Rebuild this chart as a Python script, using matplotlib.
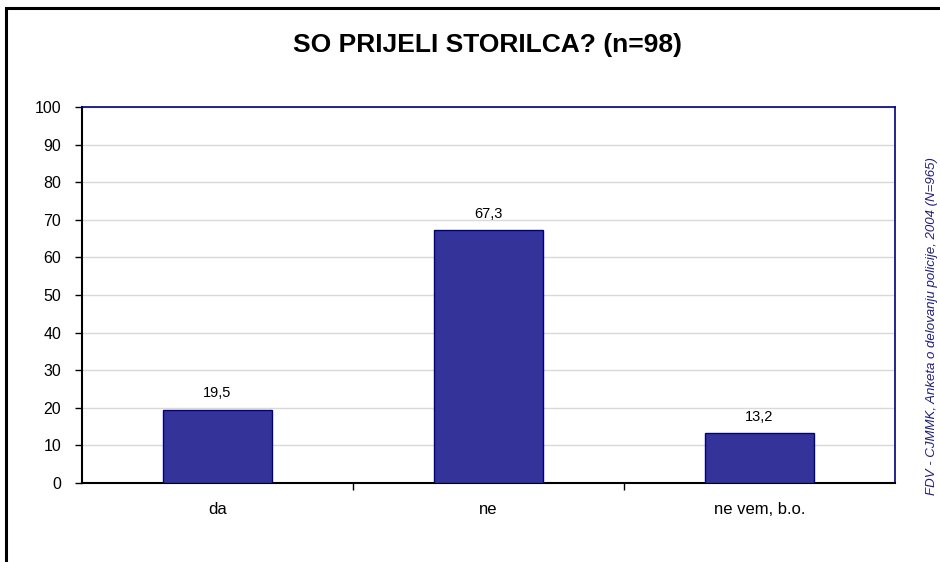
import matplotlib
matplotlib.use("Agg")
import matplotlib.pyplot as plt
from matplotlib.patches import Rectangle

categories = ["da", "ne", "ne vem, b.o."]
values = [19.5, 67.3, 13.2]
value_labels = ["19,5", "67,3", "13,2"]
yticks = [0, 10, 20, 30, 40, 50, 60, 70, 80, 90, 100]
title = "SO PRIJELI STORILCA? (n=98)"
source = "FDV - CJMMK, Anketa o delovanju policije, 2004 (N=965)"

plt.rcParams['font.family'] = ['Liberation Sans', 'DejaVu Sans']

fig = plt.figure(figsize=(9.4, 5.62), dpi=100)
ax = fig.add_axes([82/940, 1-483/562, (895-82)/940, (483-107)/562])

x = list(range(len(categories)))
ax.bar(x, values, width=0.4, color="#333399", edgecolor="#000080", linewidth=1, zorder=3)
for xi, v, lab in zip(x, values, value_labels):
    ax.text(xi, v + 2.5, lab, ha="center", va="bottom", fontsize=10.5)

ax.set_xlim(-0.5, len(categories) - 0.5)
ax.set_ylim(0, 100)
ax.set_yticks(yticks)
ax.set_yticklabels([str(t) for t in yticks], fontsize=11.5)
ax.yaxis.grid(True, color="#d9d9d9", linewidth=1, zorder=0)
ax.set_axisbelow(True)

ax.set_xticks(x)
ax.set_xticklabels(categories, fontsize=12)
ax.tick_params(axis="x", which="major", length=0, pad=14)
ax.set_xticks([i + 0.5 for i in x[:-1]], minor=True)
ax.tick_params(axis="x", which="minor", length=5, width=1, direction="out", color="black")
ax.tick_params(axis="y", length=5, width=1, direction="out", color="black", pad=10)

ax.spines["left"].set_color("black")
ax.spines["left"].set_linewidth(1.5)
ax.spines["bottom"].set_color("black")
ax.spines["bottom"].set_linewidth(1.5)
ax.spines["top"].set_color("#000080")
ax.spines["right"].set_color("#000080")
ax.spines["top"].set_linewidth(1.2)
ax.spines["right"].set_linewidth(1.2)

fig.text(487/940, 1-45/562, title, ha="center", va="center", fontsize=19, fontweight="bold")
fig.text(932/940, 1-326/562, source, ha="center", va="center", rotation=90,
         fontsize=9.5, style="italic", color="#1F1F7A")

fig.patches.append(Rectangle((6/940, -0.1), 1.2, 1-8/562 + 0.1, transform=fig.transFigure,
                             fill=False, edgecolor="black", linewidth=2.2))

fig.savefig("out.png", dpi=100)
